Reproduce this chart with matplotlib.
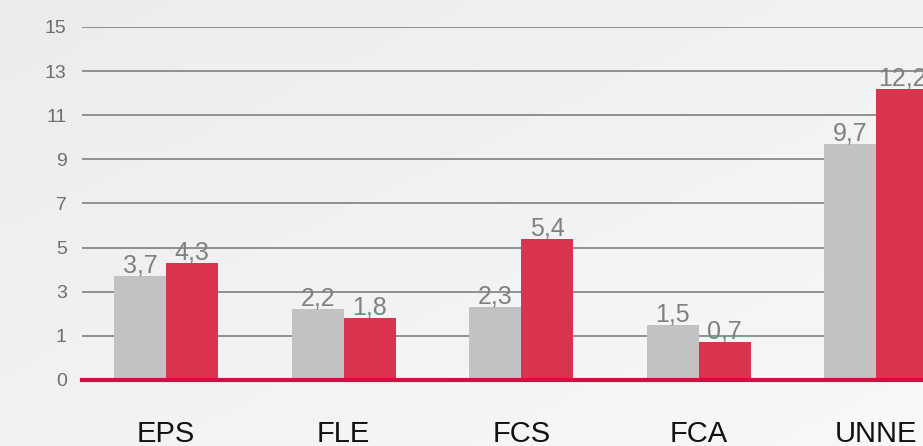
import numpy as np
import matplotlib.pyplot as plt

plt.rcParams['font.family'] = ['Liberation Sans', 'DejaVu Sans']

# datos
categorias = ['EPS', 'FLE', 'FCS', 'FCA', 'UNNE']
serie_gris = [3.7, 2.2, 2.3, 1.5, 9.7]
serie_roja = [4.3, 1.8, 5.4, 0.7, 12.2]
ticks_y = [-1, 1, 3, 5, 7, 9, 11, 13, 15]
etiquetas_y = ['0', '1', '3', '5', '7', '9', '11', '13', '15']

GRIS = '#c1c2c1'
ROJO = '#d93350'
BASE = '#d20f45'


def fmt(v):
    return f'{v:.1f}'.replace('.', ',')


def main():
    fig = plt.figure(figsize=(9.23, 4.46), dpi=100)

    # fondo con degradado suave
    bg = fig.add_axes([0, 0, 1, 1], zorder=-10)
    gx, gy = np.meshgrid(np.linspace(0, 1, 200), np.linspace(0, 1, 100))
    grad = 0.5 * gx + 0.5 * gy
    bg.imshow(grad, cmap=plt.cm.colors.LinearSegmentedColormap.from_list(
        'bg', ['#ececef', '#f8f8f8']), aspect='auto', extent=[0, 1, 0, 1],
        origin='upper')
    bg.axis('off')

    ax = fig.add_axes([0.0888, 0.148, 0.9112, 0.7915])
    ax.patch.set_alpha(0)

    x = np.arange(len(categorias))
    w = 0.293
    base = ticks_y[0]
    b1 = ax.bar(x - w / 2, np.array(serie_gris) - base, w, bottom=base,
                color=GRIS, zorder=3)
    b2 = ax.bar(x + w / 2, np.array(serie_roja) - base, w, bottom=base,
                color=ROJO, zorder=3)

    for barras, vals in ((b1, serie_gris), (b2, serie_roja)):
        for r, v in zip(barras, vals):
            ax.annotate(fmt(v), (r.get_x() + r.get_width() / 2, v),
                        xytext=(0, -1), textcoords='offset points',
                        ha='center', va='bottom', fontsize=18,
                        color='#808080', zorder=4)

    ax.set_xlim(-0.473, 4.262)
    ax.set_ylim(-1, 15)
    ax.set_yticks(ticks_y)
    ax.set_yticklabels(etiquetas_y)
    ax.set_xticks(x)
    ax.set_xticklabels(categorias)

    for t in ticks_y[1:]:
        ax.axhline(t, color='#767676', lw=1.1, zorder=1)
    ax.axhline(base, color=BASE, lw=3, zorder=5, clip_on=False)

    for s in ax.spines.values():
        s.set_visible(False)
    ax.tick_params(axis='y', length=0, pad=11, labelsize=14,
                   labelcolor='#6e6e6e')
    ax.tick_params(axis='x', length=0, pad=29, labelsize=21,
                   labelcolor='#111111')

    fig.savefig('out.png', dpi=100)


if __name__ == '__main__':
    main()
